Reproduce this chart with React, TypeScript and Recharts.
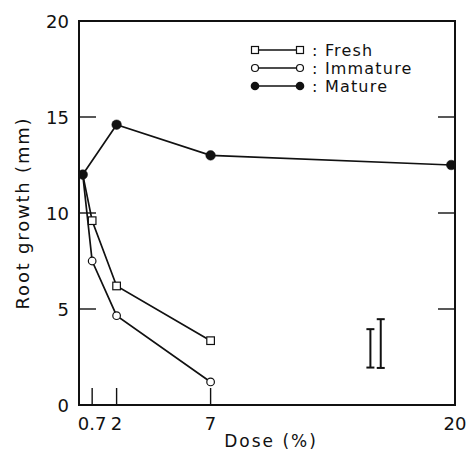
import React from 'react';
import { ScatterChart, Scatter, XAxis, YAxis, ErrorBar, ReferenceArea, Legend, Label } from 'recharts';

const freshDose = [0.2, 0.7, 2, 7];
const freshGrowth = [12, 9.6, 6.2, 3.35];
const immatureDose = [0.2, 0.7, 2, 7];
const immatureGrowth = [12, 7.5, 4.65, 1.2];
const matureDose = [0.2, 2, 7, 19.8];
const matureGrowth = [12, 14.6, 13, 12.5];
const errDose = [15.5, 16.05];
const errCenter = [2.95, 3.2];
const errHalf = [1.0, 1.27];
const xTicks = [0.7, 2, 7, 20];
const yTicks = [0, 5, 10, 15, 20];
const rightTicks = [5, 10, 15];
const legendNames = ['Fresh', 'Immature', 'Mature'];

const FONT = '"DejaVu Sans", sans-serif';
const INK = '#111';

const toPts = (xs: number[], ys: number[]) => xs.map((x, i) => ({ x, y: ys[i], ctrl: i === 0 }));
const freshData = toPts(freshDose, freshGrowth);
const immatureData = toPts(immatureDose, immatureGrowth);
const matureData = toPts(matureDose, matureGrowth);
const errData = errDose.map((x, i) => ({ x, y: errCenter[i], err: errHalf[i] }));

const SquareShape = (p: any) =>
  p.payload && p.payload.ctrl ? <g /> : (
    <rect x={p.cx - 3.8} y={p.cy - 3.8} width={7.6} height={7.6} fill="#fff" stroke={INK} strokeWidth={1.2} />
  );
const CircleShape = (p: any) =>
  p.payload && p.payload.ctrl ? <g /> : <circle cx={p.cx} cy={p.cy} r={3.8} fill="#fff" stroke={INK} strokeWidth={1.2} />;
const DotShape = (p: any) => <circle cx={p.cx} cy={p.cy} r={4.8} fill={INK} stroke={INK} strokeWidth={0.5} />;
const NoShape = () => <g />;

const XTick = (p: any) => {
  const { x, y, payload } = p;
  return (
    <g>
      <line x1={x} x2={x} y1={y} y2={y - 17} stroke={INK} strokeWidth={1.4} />
      <text x={x} y={y + 25} textAnchor="middle" fontFamily={FONT} fontSize={18} fill={INK}>
        {String(payload.value)}
      </text>
    </g>
  );
};

const YTick = (p: any) => {
  const { x, y, payload } = p;
  return (
    <g>
      <line x1={x} x2={x + 17} y1={y} y2={y} stroke={INK} strokeWidth={1.4} />
      <text x={x - 10} y={y + 6.5} textAnchor="end" fontFamily={FONT} fontSize={18} fill={INK}>
        {String(payload.value)}
      </text>
    </g>
  );
};

const RTick = (p: any) => {
  const { x, y } = p;
  return <line x1={x} x2={x - 17} y1={y} y2={y} stroke={INK} strokeWidth={1.4} />;
};

const LegendContent = () => {
  const rows = [0, 1, 2];
  return (
    <svg width={210} height={60} style={{ display: 'block' }}>
      {rows.map((i) => {
        const cy = 10 + i * 18;
        return (
          <g key={i}>
            <line x1={10} x2={55} y1={cy} y2={cy} stroke={INK} strokeWidth={1.6} />
            {i === 0 && (
              <>
                <rect x={6.5} y={cy - 3.5} width={7} height={7} fill="#fff" stroke={INK} strokeWidth={1.2} />
                <rect x={51.5} y={cy - 3.5} width={7} height={7} fill="#fff" stroke={INK} strokeWidth={1.2} />
              </>
            )}
            {i === 1 && (
              <>
                <circle cx={10} cy={cy} r={3.5} fill="#fff" stroke={INK} strokeWidth={1.2} />
                <circle cx={55} cy={cy} r={3.5} fill="#fff" stroke={INK} strokeWidth={1.2} />
              </>
            )}
            {i === 2 && (
              <>
                <circle cx={10} cy={cy} r={4.3} fill={INK} />
                <circle cx={55} cy={cy} r={4.3} fill={INK} />
              </>
            )}
            <text x={67} y={cy + 5.5} fontFamily={FONT} fontSize={16} letterSpacing={1.2} fill={INK}>
              {':  ' + legendNames[i]}
            </text>
          </g>
        );
      })}
    </svg>
  );
};

const YTitle = (p: any) => {
  const vb = p.viewBox || {};
  const cx = 22;
  const cy = vb.y + vb.height / 2;
  return (
    <text x={cx} y={cy} transform={`rotate(-90 ${cx} ${cy})`} textAnchor="middle" dominantBaseline="central" fontFamily={FONT} fontSize={18} letterSpacing={1.8} fill={INK}>
      Root growth (mm)
    </text>
  );
};

const XTitle = (p: any) => {
  const vb = p.viewBox || {};
  const cx = vb.x + vb.width / 2 + 4;
  return (
    <text x={cx} y={447} textAnchor="middle" fontFamily={FONT} fontSize={17} letterSpacing={2} fill={INK}>
      Dose (%)
    </text>
  );
};

export default function App() {
  return (
    <div style={{ position: 'absolute', left: 0, top: 0, width: 468, height: 457, background: '#fff' }}>
      <ScatterChart width={468} height={457} margin={{ top: 21, right: 0, bottom: 0, left: 0 }}>
        <XAxis
          type="number"
          dataKey="x"
          domain={[0, 20]}
          ticks={xTicks}
          height={52}
          tickSize={0}
          tickMargin={0}
          tick={<XTick />}
          axisLine={{ stroke: INK, strokeWidth: 2 }}
          allowDataOverflow
        >
          <Label content={<XTitle />} />
        </XAxis>
        <YAxis
          type="number"
          dataKey="y"
          domain={[0, 20]}
          ticks={yTicks}
          width={79}
          tickSize={0}
          tickMargin={0}
          tick={<YTick />}
          axisLine={{ stroke: INK, strokeWidth: 2 }}
          allowDataOverflow
        >
          <Label content={<YTitle />} />
        </YAxis>
        <YAxis
          yAxisId="r"
          orientation="right"
          type="number"
          domain={[0, 20]}
          ticks={rightTicks}
          width={13}
          tickSize={0}
          tickMargin={0}
          tick={<RTick />}
          axisLine={{ stroke: INK, strokeWidth: 2 }}
          allowDataOverflow
        />
        <ReferenceArea x1={0} x2={20} y1={0} y2={20} fill="none" fillOpacity={0} stroke={INK} strokeWidth={2} ifOverflow="visible" />
        <Scatter data={errData} shape={<NoShape />} isAnimationActive={false}>
          <ErrorBar dataKey="err" direction="y" width={4} stroke={INK} strokeWidth={2} isAnimationActive={false} />
        </Scatter>
        <Scatter data={freshData} line={{ stroke: INK, strokeWidth: 1.7 }} shape={<SquareShape />} isAnimationActive={false} />
        <Scatter data={immatureData} line={{ stroke: INK, strokeWidth: 1.7 }} shape={<CircleShape />} isAnimationActive={false} />
        <Scatter data={matureData} line={{ stroke: INK, strokeWidth: 1.7 }} shape={<DotShape />} isAnimationActive={false} />
        <Legend
          layout="vertical"
          align="center"
          verticalAlign="middle"
          content={<LegendContent />}
          wrapperStyle={{ left: 245, top: 40, width: 210, height: 60 }}
        />
      </ScatterChart>
    </div>
  );
}
